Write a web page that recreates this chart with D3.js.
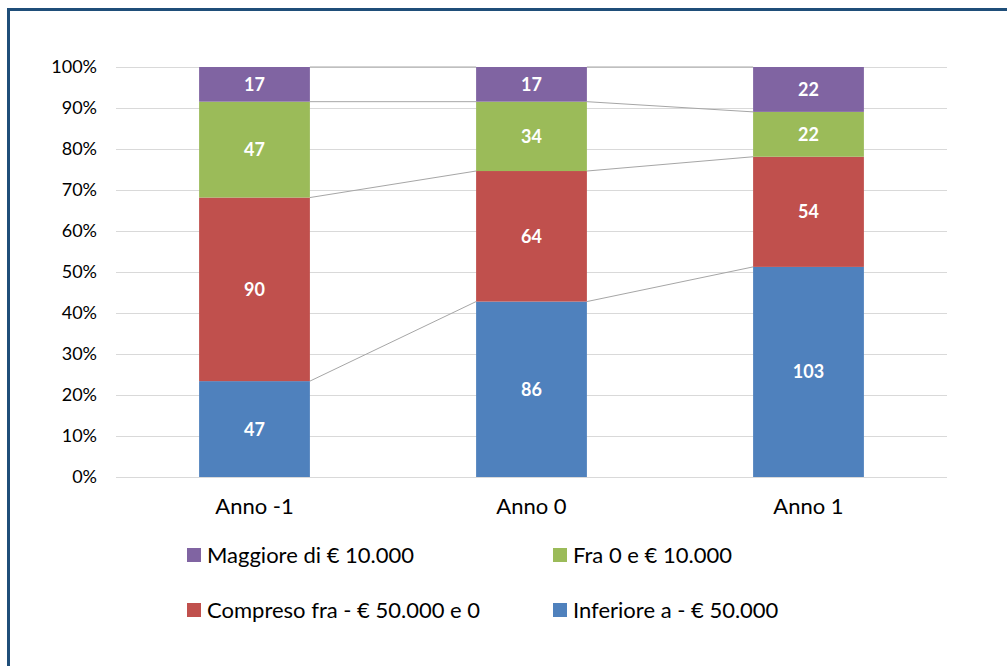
<!DOCTYPE html>
<html>
<head>
<meta charset="utf-8">
<script src="https://cdn.jsdelivr.net/npm/d3@7"></script>
<style>
  body { margin: 0; background: #fff; }
  text { font-family: Lato, "Open Sans", sans-serif; }
</style>
</head>
<body>
<script>
"use strict";
(function(){
    // data
    const categories = ["Anno -1", "Anno 0", "Anno 1"]
    const seriesNames = ["Inferiore a - € 50.000", "Compreso fra - € 50.000 e 0", "Fra 0 e € 10.000", "Maggiore di € 10.000"]
    const inferiore = [47, 86, 103]
    const compreso = [90, 64, 54]
    const fra = [47, 34, 22]
    const maggiore = [17, 17, 22]
    const yTicks = [0, 0.1, 0.2, 0.3, 0.4, 0.5, 0.6, 0.7, 0.8, 0.9, 1]

    const colors = ["#4F81BD", "#C0504D", "#9BBB59", "#8064A2"]

    const measurements = { width: 1007, height: 666 }

    let svg = d3.select("body").append("svg")
        .attr("width", measurements.width)
        .attr("height", measurements.height)

    // dark blue frame (runs off right and bottom)
    svg.append("rect")
        .attr("x", 8.5).attr("y", 9.5)
        .attr("width", 1010).attr("height", 680)
        .attr("fill", "none")
        .attr("stroke", "#1F4E79")
        .attr("stroke-width", 3)

    let rows = categories.map((c, i) => ({
        cat: c,
        s0: inferiore[i], s1: compreso[i], s2: fra[i], s3: maggiore[i]
    }))
    rows.forEach(r => { r.total = r.s0 + r.s1 + r.s2 + r.s3 })

    let stack = d3.stack().keys(["s0", "s1", "s2", "s3"])
        .value((d, k) => d[k] / d.total)
    let layers = stack(rows)

    let scaleX = d3.scaleBand()
        .domain(categories)
        .range([116, 947])
        .paddingInner(0.6)
        .paddingOuter(0.3)

    let scaleY = d3.scaleLinear()
        .domain([0, 1])
        .range([477, 67])

    // gridlines
    svg.append("g").selectAll("line")
        .data(yTicks)
        .enter().append("line")
        .attr("x1", 116).attr("x2", 947)
        .attr("y1", d => Math.round(scaleY(d)) + 0.5)
        .attr("y2", d => Math.round(scaleY(d)) + 0.5)
        .attr("stroke", "#D9D9D9")
        .attr("stroke-width", 1)

    // y axis labels
    let yAxis = d3.axisLeft(scaleY)
        .tickValues(yTicks)
        .tickFormat(d3.format(".0%"))
        .tickSize(0)
        .tickPadding(0)
    let gy = svg.append("g")
        .attr("transform", "translate(97,0)")
        .call(yAxis)
    gy.select(".domain").remove()
    gy.selectAll("text")
        .attr("font-family", "Lato, 'Open Sans', sans-serif")
        .attr("font-size", 18)
        .attr("fill", "#000")

    // x axis labels
    let xAxis = d3.axisBottom(scaleX).tickSize(0).tickPadding(0)
    let gx = svg.append("g")
        .attr("transform", "translate(0,498)")
        .call(xAxis)
    gx.select(".domain").remove()
    gx.selectAll("text")
        .attr("font-family", "Lato, 'Open Sans', sans-serif")
        .attr("font-size", 22)
        .attr("fill", "#000")

    // series lines between bars
    let bw = scaleX.bandwidth()
    layers.forEach(layer => {
        for (let i = 0; i < categories.length - 1; i++) {
            svg.append("line")
                .attr("x1", scaleX(categories[i]) + bw)
                .attr("x2", scaleX(categories[i + 1]))
                .attr("y1", scaleY(layer[i][1]))
                .attr("y2", scaleY(layer[i + 1][1]))
                .attr("stroke", "#A6A6A6")
                .attr("stroke-width", 1)
        }
    })

    // bars
    let groups = svg.append("g").selectAll("g")
        .data(layers)
        .enter().append("g")
        .attr("fill", (d, i) => colors[i])

    groups.selectAll("rect")
        .data(d => d)
        .enter().append("rect")
        .attr("x", d => scaleX(d.data.cat))
        .attr("width", bw)
        .attr("y", d => scaleY(d[1]))
        .attr("height", d => scaleY(d[0]) - scaleY(d[1]))

    // value labels
    groups.each(function(layer) {
        d3.select(this).selectAll("text")
            .data(layer)
            .enter().append("text")
            .attr("x", d => scaleX(d.data.cat) + bw / 2)
            .attr("y", d => (scaleY(d[0]) + scaleY(d[1])) / 2)
            .attr("dy", "0.36em")
            .attr("text-anchor", "middle")
            .attr("font-size", 18)
            .attr("font-weight", "bold")
            .attr("fill", "#fff")
            .text(d => d.data[layer.key])
    })

    // legend
    const legendItems = [
        { name: seriesNames[3], color: colors[3], x: 187, y: 548 },
        { name: seriesNames[2], color: colors[2], x: 553, y: 548 },
        { name: seriesNames[1], color: colors[1], x: 187, y: 603 },
        { name: seriesNames[0], color: colors[0], x: 553, y: 603 }
    ]
    let legend = svg.append("g").selectAll("g")
        .data(legendItems)
        .enter().append("g")
        .attr("transform", d => `translate(${d.x},${d.y})`)
    legend.append("rect")
        .attr("width", 14).attr("height", 14)
        .attr("fill", d => d.color)
    legend.append("text")
        .attr("x", 20).attr("y", 7)
        .attr("dy", "0.36em")
        .attr("font-size", 22)
        .attr("fill", "#000")
        .text(d => d.name)
})()
</script>
</body>
</html>
